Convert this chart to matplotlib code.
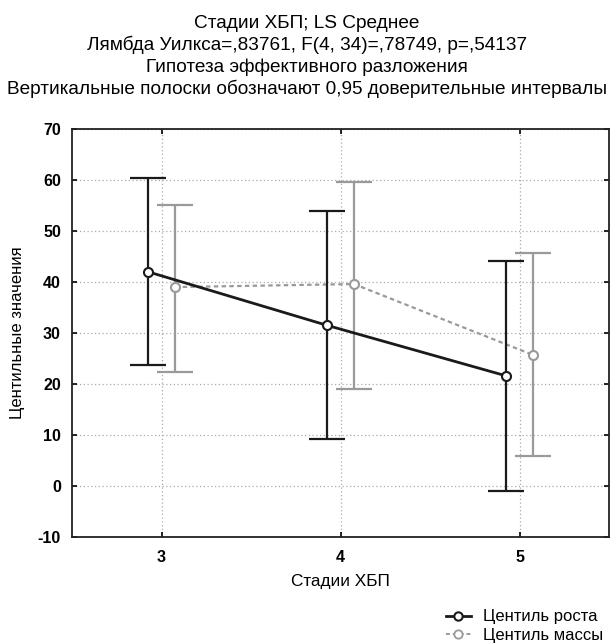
import matplotlib
matplotlib.use("Agg")
import matplotlib.pyplot as plt
from matplotlib.lines import Line2D

plt.rcParams['font.family'] = ['Liberation Sans', 'DejaVu Sans']
plt.rcParams['axes.unicode_minus'] = False

stages = [3, 4, 5]
stage_labels = ["3", "4", "5"]
growth_mean = [42.0, 31.5, 21.6]
growth_low = [23.7, 9.3, -0.9]
growth_high = [60.3, 53.9, 44.2]
mass_mean = [39.0, 39.6, 25.7]
mass_low = [22.4, 19.1, 5.8]
mass_high = [55.1, 59.6, 45.7]

title = ("Стадии ХБП; LS Среднее\n"
         "Лямбда Уилкса=,83761, F(4, 34)=,78749, p=,54137\n"
         "Гипотеза эффективного разложения\n"
         "Вертикальные полоски обозначают 0,95 доверительные интервалы")

fig = plt.figure(figsize=(6.14, 6.43), dpi=100)
ax = fig.add_axes([72/614, 1-537/643, (609-72)/614, (537-129)/643])

off_g, off_m = -0.075, 0.075
xg = [s + off_g for s in stages]
xm = [s + off_m for s in stages]

gray = '#9a9a9a'
dark = '#1a1a1a'

ax.errorbar(xm, mass_mean,
            yerr=[[m - l for m, l in zip(mass_mean, mass_low)],
                  [h - m for m, h in zip(mass_mean, mass_high)]],
            fmt='none', ecolor=gray, elinewidth=1.6, capsize=13, capthick=1.6, zorder=3)
ax.plot(xm, mass_mean, color=gray, ls=(0, (2, 1.5)), lw=1.6, marker='o',
        ms=6.5, mfc='white', mec=gray, mew=1.5, zorder=4)

ax.errorbar(xg, growth_mean,
            yerr=[[m - l for m, l in zip(growth_mean, growth_low)],
                  [h - m for m, h in zip(growth_mean, growth_high)]],
            fmt='none', ecolor=dark, elinewidth=1.6, capsize=13, capthick=1.6, zorder=5)
ax.plot(xg, growth_mean, color=dark, ls='-', lw=2.0, marker='o',
        ms=6.5, mfc='white', mec=dark, mew=1.5, zorder=6)

ax.set_xlim(2.5, 5.5)
ax.set_ylim(-10, 70)
ax.set_xticks(stages)
ax.set_xticklabels(stage_labels)
ax.set_yticks(range(-10, 71, 10))
for lab in ax.get_xticklabels() + ax.get_yticklabels():
    lab.set_fontweight('bold')
    lab.set_fontsize(11.5)
ax.tick_params(direction='in', length=3.5, width=1.2, top=True, right=True)
ax.tick_params(axis='y', pad=8)
ax.tick_params(axis='x', pad=9)
ax.grid(True, color='#aaaaaa', ls=(0, (1, 2)), lw=0.9)
for sp in ax.spines.values():
    sp.set_linewidth(1.3)
    sp.set_color('#222222')

ax.set_xlabel("Стадии ХБП", fontsize=12.4, labelpad=7)
ax.set_ylabel("Центильные значения", fontsize=12, labelpad=9)
fig.text(0.5, 1-15/643, title, ha='center', va='top', fontsize=13.7, linespacing=1.28)

handles = [Line2D([], [], color=dark, lw=2.0, marker='o', ms=6, mfc='white', mec=dark, mew=1.5),
           Line2D([], [], color=gray, lw=1.4, ls=(0, (2, 1.5)), marker='o', ms=6, mfc='white', mec=gray, mew=1.3)]
fig.legend(handles, ["Центиль роста", "Центиль массы"], loc='lower right',
           bbox_to_anchor=(1 - 2/614, -9/643), frameon=False, fontsize=12,
           handlelength=1.5, labelspacing=0.2, borderpad=0.05, handletextpad=0.7)

fig.savefig("out.png", dpi=100)
